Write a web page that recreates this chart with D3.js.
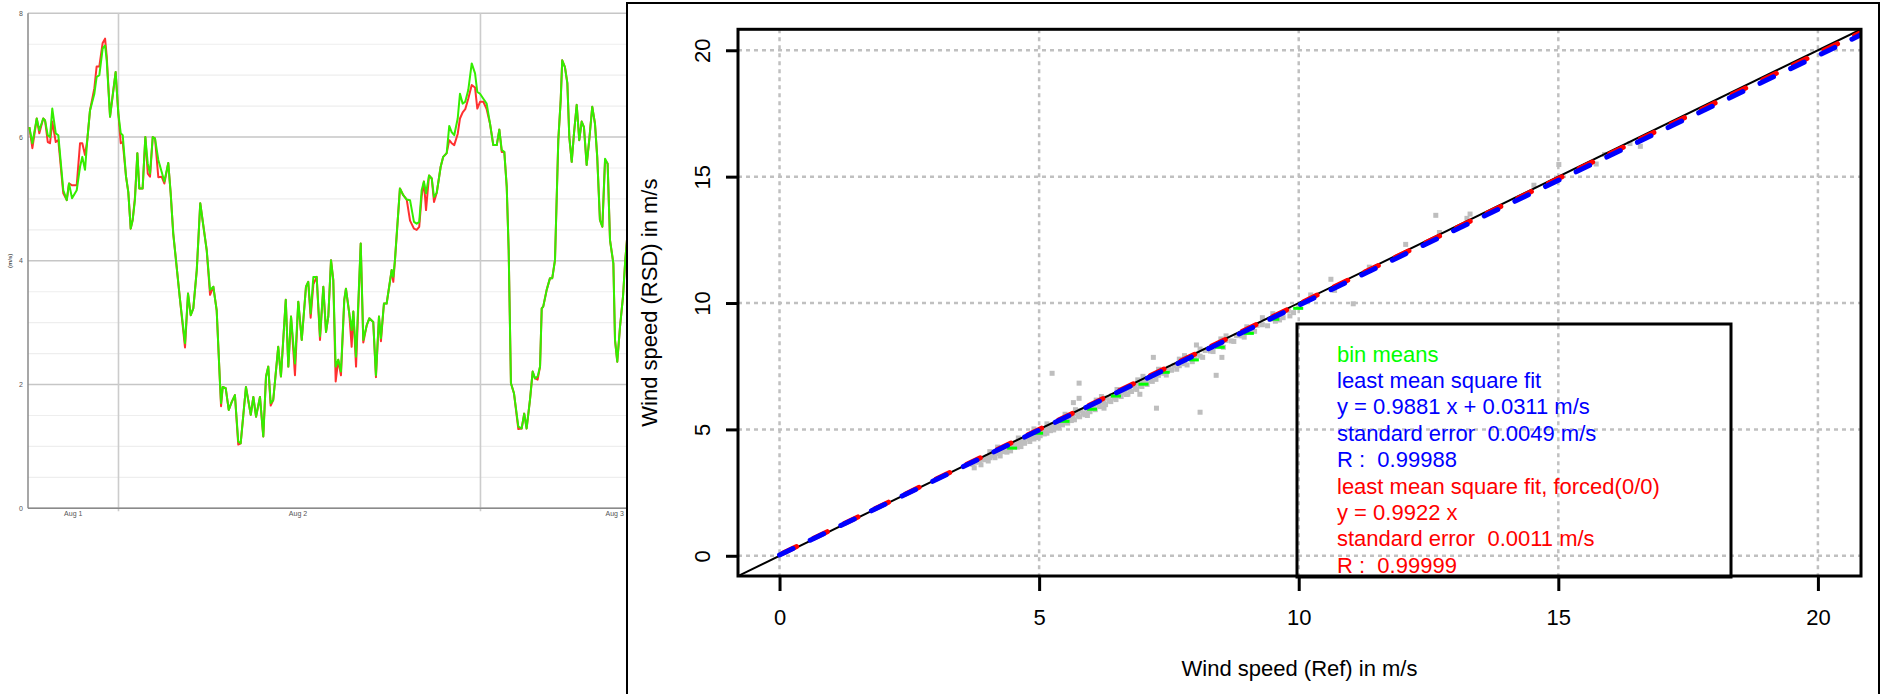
<!DOCTYPE html>
<html>
<head>
<meta charset="utf-8">
<script src="https://cdn.jsdelivr.net/npm/d3@7"></script>
<style>
  body { margin: 0; background: #fff; }
  svg { display: block; font-family: "Liberation Sans", Arial, sans-serif; }
</style>
</head>
<body>
<div class="chart"></div>
<script>
// ---- left panel: wind speed time series (hours since start, m/s) ----
var hours = [0.09,0.29,0.58,0.75,1.01,1.13,1.31,1.46,1.61,1.84,
  2.01,2.34,2.57,2.72,2.92,3.23,3.45,3.60,3.78,3.93,
  4.11,4.40,4.55,4.73,4.95,5.11,5.22,5.44,5.66,5.81,
  5.99,6.15,6.28,6.50,6.65,6.81,6.94,7.09,7.25,7.38,
  7.60,7.78,7.94,8.09,8.27,8.42,8.64,8.86,9.04,9.30,
  9.46,9.63,9.79,10.08,10.41,10.61,10.79,10.96,11.19,11.42,
  11.85,12.07,12.29,12.51,12.73,12.80,12.91,13.11,13.31,13.51,
  13.72,13.94,14.10,14.45,14.77,14.94,15.12,15.38,15.60,15.78,
  15.93,16.09,16.26,16.59,16.77,17.09,17.26,17.44,17.70,17.92,
  18.15,18.43,18.58,18.74,18.92,19.14,19.36,19.58,19.76,19.91,
  20.09,20.24,20.40,20.57,20.75,20.97,21.08,21.30,21.46,21.57,
  21.75,22.06,22.23,22.46,22.63,22.89,23.07,23.27,23.40,23.60,
  23.78,24.11,24.22,24.33,24.66,24.88,25.11,25.33,25.59,25.77,
  25.94,26.10,26.25,26.39,26.59,26.77,26.92,27.10,27.36,27.53,
  27.76,27.93,28.09,28.26,28.49,28.64,28.82,28.99,29.19,29.42,
  29.64,29.79,29.97,30.19,30.41,30.63,30.85,31.08,31.25,31.41,
  31.58,31.74,31.87,32.02,32.22,32.51,32.73,32.90,33.06,33.28,
  33.46,33.61,33.79,33.95,34.06,34.16,34.39,34.61,34.76,34.94,
  35.16,35.32,35.42,35.60,35.76,35.89,36.05,36.20,36.38,36.55,
  36.71,36.86,37.04,37.21,37.41,37.59,37.74,37.92,38.08,38.26,
  38.43,38.59,38.81,38.92,39.07,39.25,39.45,39.60,39.87];

// green line (RSD)
var rsdSpeed = [6.16,5.90,6.30,6.11,6.30,6.27,6.03,6.00,6.46,6.06,
  6.03,5.14,4.98,5.25,5.01,5.14,5.52,5.68,5.47,5.95,
  6.43,6.70,6.97,7.00,7.43,7.48,7.24,6.33,6.76,7.05,
  6.38,6.06,6.03,5.36,5.11,4.52,4.66,4.98,5.74,5.17,
  5.17,6.00,5.57,5.41,6.00,5.98,5.63,5.44,5.28,5.58,
  5.09,4.44,4.06,3.37,2.67,3.47,3.12,3.23,3.85,4.93,
  4.17,3.53,3.58,3.20,2.02,1.70,1.96,1.94,1.59,1.72,
  1.83,1.08,1.05,1.96,1.51,1.80,1.48,1.80,1.16,2.13,
  2.29,1.70,1.75,2.61,2.13,3.37,2.29,3.10,2.34,3.34,
  2.72,3.58,3.66,3.15,3.74,3.74,2.78,3.58,2.85,3.10,
  4.01,3.69,2.29,2.40,2.21,3.37,3.55,3.15,2.88,3.18,
  2.45,4.28,2.72,2.96,3.07,3.01,2.15,3.10,2.75,3.31,
  3.31,3.85,3.74,4.01,5.17,5.06,4.99,4.98,4.63,4.60,
  4.63,5.14,5.28,5.09,5.38,5.33,5.03,5.10,5.52,5.68,
  5.74,6.18,6.08,6.03,6.30,6.70,6.54,6.57,6.76,7.19,
  7.03,6.73,6.70,6.62,6.54,6.22,5.87,5.87,6.12,5.79,
  5.76,5.20,4.17,2.02,1.86,1.32,1.29,1.53,1.29,1.75,
  2.21,2.10,2.13,2.29,3.23,3.26,3.53,3.72,3.72,4.01,
  5.95,6.60,7.24,7.13,6.87,6.00,5.60,6.06,6.52,5.95,
  6.25,6.16,5.55,5.95,6.49,6.22,5.68,4.66,4.55,5.65,
  5.57,4.33,3.96,2.72,2.37,2.93,3.42,4.01,4.80];

// red line (reference mast)
var refSpeed = [6.16,5.82,6.30,6.06,6.30,6.27,5.92,5.90,6.25,5.92,
  5.95,5.09,4.98,5.25,5.22,5.22,5.90,5.90,5.71,5.95,
  6.43,6.79,7.14,7.14,7.52,7.59,7.30,6.33,6.76,7.05,
  6.38,5.90,5.92,5.36,5.11,4.52,4.66,5.02,5.74,5.17,
  5.17,6.00,5.41,5.36,6.00,5.98,5.35,5.36,5.25,5.58,
  5.09,4.44,4.06,3.37,2.60,3.47,3.12,3.23,3.85,4.93,
  4.17,3.45,3.58,3.20,2.02,1.65,1.96,1.94,1.59,1.72,
  1.83,1.03,1.05,1.96,1.51,1.80,1.48,1.80,1.16,2.13,
  2.29,1.66,1.75,2.61,2.13,3.37,2.29,3.10,2.15,3.34,
  2.72,3.58,3.66,3.08,3.62,3.74,2.72,3.58,2.85,3.10,
  4.01,3.69,2.05,2.40,2.15,3.37,3.55,3.15,2.61,3.18,
  2.29,4.28,2.68,2.96,3.07,3.01,2.12,3.10,2.70,3.31,
  3.31,3.85,3.66,4.01,5.17,5.06,4.99,4.65,4.52,4.50,
  4.55,5.04,5.28,4.82,5.38,5.33,4.95,5.10,5.52,5.68,
  5.74,5.95,5.90,5.87,6.05,6.30,6.40,6.45,6.62,6.84,
  6.80,6.46,6.57,6.57,6.45,6.22,5.87,5.87,6.12,5.76,
  5.76,5.20,4.17,2.02,1.86,1.28,1.29,1.53,1.29,1.75,
  2.21,2.10,2.08,2.29,3.23,3.26,3.53,3.72,3.72,4.01,
  5.95,6.60,7.24,7.13,6.87,6.00,5.60,6.06,6.52,5.95,
  6.25,6.16,5.55,5.95,6.49,6.22,5.68,4.66,4.55,5.63,
  5.57,4.33,3.96,2.72,2.37,2.93,3.42,4.01,4.80];

var tsMajorTicks = [0, 2, 4, 6, 8];
var tsMinorTicks = [0.5, 1, 1.5, 2.5, 3, 3.5, 4.5, 5, 5.5, 6.5, 7, 7.5];
var tsDayLines = [6, 30];
var tsDayTicks = [3, 17.9, 38.9];
var tsDayLabels = ["Aug 1", "Aug 2", "Aug 3"];

// ---- right panel: RSD vs reference scatter ----
var refScatter = [3.72,3.78,3.85,3.90,3.95,4.00,4.05,4.10,4.12,4.18,4.22,4.28,4.30,4.35,4.40,4.42,4.48,4.50,4.55,4.60,
  4.62,4.68,4.70,4.75,4.80,4.85,4.88,4.92,4.95,5.00,5.05,5.08,5.12,5.18,5.20,5.25,5.30,5.35,5.40,5.42,
  5.48,5.52,5.58,5.60,5.65,5.70,5.75,5.80,5.85,5.90,5.95,6.00,6.05,6.10,6.15,6.20,6.25,6.30,6.35,6.40,
  6.45,6.50,6.55,6.60,6.65,6.70,6.75,6.80,6.85,6.90,6.95,7.00,7.05,7.10,7.15,7.20,7.30,7.35,7.40,7.50,
  7.55,7.60,7.70,7.75,7.80,7.90,8.00,8.05,8.10,8.20,8.30,8.40,8.50,8.60,8.70,8.80,8.90,9.00,9.10,9.20,
  9.30,9.45,9.60,9.80,10.00,4.20,4.90,5.50,6.20,7.00,7.80,8.60,9.30,
  3.75,3.88,4.02,4.15,4.25,4.38,4.45,4.58,4.65,4.72,4.82,4.90,4.98,5.02,5.10,5.15,5.22,5.28,5.32,5.38,
  5.45,5.55,5.62,5.68,5.78,5.88,5.98,6.08,6.18,6.28,6.38,6.48,6.58,6.68,6.78,6.88,6.98,7.08,7.18,7.25,
  7.45,7.65,7.85,7.95,8.15,8.35,8.55,8.75,8.95,9.15,9.40,9.55,9.70,9.90,
  4.05,4.60,5.15,5.70,6.10,6.50,6.90,7.30,7.70,8.10,8.50,9.00,9.50,
  5.25,5.77,5.77,5.66,5.93,6.25,7.20,6.94,6.71,7.26,8.03,8.52,8.41,8.10,9.63,9.83,10.23,10.62,10.69,11.05,
  11.36,12.06,12.64,12.71,13.30,13.24,14.53,15.01,15.73,15.89,16.38,16.58];
var rsdScatter = [3.62,3.70,3.72,3.84,3.80,3.92,3.88,4.02,3.95,4.10,4.05,4.20,4.12,4.30,4.22,4.36,4.30,4.45,4.38,4.52,
  4.45,4.60,4.52,4.68,4.62,4.78,4.70,4.86,4.76,4.93,4.88,5.02,4.95,5.10,5.00,5.18,5.12,5.28,5.20,5.36,
  5.30,5.45,5.38,5.55,5.46,5.62,5.55,5.74,5.64,5.84,5.75,5.93,5.84,6.04,5.95,6.12,6.05,6.24,6.14,6.33,
  6.24,6.44,6.33,6.52,6.44,6.62,6.52,6.74,6.63,6.82,6.72,6.93,6.84,7.02,6.93,7.12,7.14,7.28,7.22,7.42,
  7.34,7.53,7.52,7.68,7.60,7.82,7.80,7.98,7.90,8.12,8.10,8.32,8.30,8.52,8.50,8.71,8.70,8.92,8.90,9.12,
  9.14,9.36,9.45,9.70,9.86,4.30,5.02,5.60,6.30,7.10,7.92,8.70,9.42,
  3.48,3.60,3.75,3.88,3.95,4.10,4.15,4.30,4.32,4.45,4.52,4.62,4.68,4.75,4.82,4.85,4.95,4.98,5.05,5.08,
  5.18,5.25,5.35,5.38,5.50,5.58,5.70,5.78,5.90,5.98,6.10,6.18,6.30,6.38,6.50,6.58,6.70,6.78,6.90,6.98,
  7.15,7.38,7.55,7.68,7.85,8.08,8.25,8.48,8.65,8.88,9.10,9.28,9.42,9.62,
  4.12,4.66,5.22,5.78,6.16,6.58,6.96,7.38,7.78,8.18,8.58,9.06,9.58,
  7.22,6.83,6.23,6.06,5.55,5.84,7.85,6.39,6.39,5.84,8.34,7.85,7.14,5.68,9.33,9.49,10.32,10.94,10.50,9.97,
  11.42,12.32,13.47,12.79,13.52,13.35,14.66,15.48,15.50,15.88,16.31,16.20];

var binRef = [4.48, 4.98, 5.49, 6.02, 6.48, 7.01, 7.42, 7.98, 8.48, 9.04, 9.53, 9.99];
var binRsd = [4.26, 4.85, 5.32, 5.80, 6.32, 6.79, 7.26, 7.75, 8.25, 8.80, 9.36, 9.79];

// fit results: [free fit, forced through origin]
var fitSlope = [0.9881, 0.9922];
var fitIntercept = [0.0311, 0];
var fitColors = ["#0000ff", "#ff0000"];

var scatterTicks = [0, 5, 10, 15, 20];
var legendLines = ["bin means", "least mean square fit", "y = 0.9881 x + 0.0311 m/s",
  "standard error  0.0049 m/s", "R :  0.99988", "least mean square fit, forced(0/0)",
  "y = 0.9922 x", "standard error  0.0011 m/s", "R :  0.99999"];
var legendColors = ["#00ff00", "#0000ff", "#0000ff", "#0000ff", "#0000ff",
  "#ff0000", "#ff0000", "#ff0000", "#ff0000"];

var svg = d3.select(".chart")
  .append("svg")
  .attr("width", 1882)
  .attr("height", 694);

// ================= left panel =================
var tsX = d3.scaleLinear().domain([0, 40]).range([28, 631.3]);
var tsY = d3.scaleLinear().domain([0, 8]).range([508.3, 13.3]);
var ts = svg.append("g");

ts.selectAll(".minor")
  .data(tsMinorTicks)
  .enter()
  .append("line")
  .attr("x1", tsX(0)).attr("x2", tsX(40))
  .attr("y1", function(d) { return tsY(d); })
  .attr("y2", function(d) { return tsY(d); })
  .attr("stroke", "#eeeeee")
  .attr("stroke-width", 1.2);

ts.selectAll(".major")
  .data(tsMajorTicks)
  .enter()
  .append("line")
  .attr("x1", tsX(0)).attr("x2", tsX(40))
  .attr("y1", function(d) { return tsY(d); })
  .attr("y2", function(d) { return tsY(d); })
  .attr("stroke", "#c6c6c6")
  .attr("stroke-width", 1.6);

ts.selectAll(".day")
  .data(tsDayLines)
  .enter()
  .append("line")
  .attr("x1", function(d) { return tsX(d); })
  .attr("x2", function(d) { return tsX(d); })
  .attr("y1", tsY(8)).attr("y2", tsY(0) + 3)
  .attr("stroke", "#cccccc")
  .attr("stroke-width", 1.6);

// axis lines
ts.append("line")
  .attr("x1", tsX(0)).attr("x2", tsX(0))
  .attr("y1", tsY(8)).attr("y2", tsY(0))
  .attr("stroke", "#8a8a8a").attr("stroke-width", 1.5);
ts.append("line")
  .attr("x1", tsX(0)).attr("x2", tsX(40))
  .attr("y1", tsY(0)).attr("y2", tsY(0))
  .attr("stroke", "#8a8a8a").attr("stroke-width", 1.5);

ts.selectAll(".ylab")
  .data(tsMajorTicks)
  .enter()
  .append("text")
  .attr("x", tsX(0) - 5)
  .attr("y", function(d) { return tsY(d); })
  .attr("dy", "0.35em")
  .attr("text-anchor", "end")
  .style("font-size", "7px")
  .style("fill", "#555")
  .text(function(d) { return d; });

ts.append("text")
  .attr("transform", "translate(12," + tsY(4.0) + ") rotate(-90)")
  .attr("text-anchor", "middle")
  .style("font-size", "6px")
  .style("font-weight", "bold")
  .style("fill", "#555")
  .text("(m/s)");

ts.selectAll(".xlab")
  .data(tsDayTicks)
  .enter()
  .append("text")
  .attr("x", function(d) { return tsX(d); })
  .attr("y", tsY(0) + 8)
  .attr("text-anchor", "middle")
  .style("font-size", "7px")
  .style("fill", "#555")
  .text(function(d, i) { return tsDayLabels[i]; });

// red under green
var idx = d3.range(hours.length);
function speedLine(values) {
  return d3.line()
    .x(function(i) { return tsX(hours[i]); })
    .y(function(i) { return tsY(values[i]); });
}
ts.append("path")
  .attr("d", speedLine(refSpeed)(idx))
  .attr("fill", "none")
  .attr("stroke", "#ff3030")
  .attr("stroke-width", 2)
  .attr("stroke-linejoin", "round");
ts.append("path")
  .attr("d", speedLine(rsdSpeed)(idx))
  .attr("fill", "none")
  .attr("stroke", "#33ee00")
  .attr("stroke-width", 2)
  .attr("stroke-linejoin", "round");

// ================= right panel =================
var panel = svg.append("g");
panel.append("rect")
  .attr("x", 627).attr("y", 3)
  .attr("width", 1252).attr("height", 720)
  .attr("fill", "#fff")
  .attr("stroke", "#000")
  .attr("stroke-width", 2);

var sx = d3.scaleLinear().domain([-0.8, 20.83]).range([738, 1861]);
var sy = d3.scaleLinear().domain([-0.8, 20.83]).range([576, 29.3]);

panel.append("clipPath")
  .attr("id", "plotclip")
  .append("rect")
  .attr("x", sx(-0.8)).attr("y", sy(20.83))
  .attr("width", sx(20.83) - sx(-0.8))
  .attr("height", sy(-0.8) - sy(20.83));

var plot = panel.append("g").attr("clip-path", "url(#plotclip)");

// dotted grid
plot.selectAll(".vgrid")
  .data(scatterTicks)
  .enter()
  .append("line")
  .attr("x1", function(d) { return sx(d); })
  .attr("x2", function(d) { return sx(d); })
  .attr("y1", sy(20.83)).attr("y2", sy(-0.8))
  .attr("stroke", "#c0c0c0")
  .attr("stroke-width", 2.5)
  .attr("stroke-dasharray", "4,4");
plot.selectAll(".hgrid")
  .data(scatterTicks)
  .enter()
  .append("line")
  .attr("x1", sx(-0.8)).attr("x2", sx(20.83))
  .attr("y1", function(d) { return sy(d); })
  .attr("y2", function(d) { return sy(d); })
  .attr("stroke", "#c0c0c0")
  .attr("stroke-width", 2.5)
  .attr("stroke-dasharray", "4,4");

// samples
plot.selectAll(".pt")
  .data(refScatter)
  .enter()
  .append("rect")
  .attr("x", function(d) { return sx(d) - 2.5; })
  .attr("y", function(d, i) { return sy(rsdScatter[i]) - 2.5; })
  .attr("width", 5).attr("height", 5)
  .attr("fill", "#bebebe");

// 1:1 line
plot.append("line")
  .attr("x1", sx(-0.8)).attr("y1", sy(-0.8))
  .attr("x2", sx(20.83)).attr("y2", sy(20.83))
  .attr("stroke", "#000")
  .attr("stroke-width", 2);

// bin means
plot.selectAll(".bin")
  .data(binRef)
  .enter()
  .append("rect")
  .attr("x", function(d) { return sx(d) - 5; })
  .attr("y", function(d, i) { return sy(binRsd[i]) - 1.5; })
  .attr("width", 10).attr("height", 3)
  .attr("fill", "#00ff00");

// fit lines, forced fit first so the free fit sits on top
[1, 0].forEach(function(k) {
  plot.append("line")
    .attr("x1", sx(0)).attr("y1", sy(fitIntercept[k]))
    .attr("x2", sx(20.83)).attr("y2", sy(fitSlope[k] * 20.83 + fitIntercept[k]))
    .attr("stroke", fitColors[k])
    .attr("stroke-width", 5)
    .attr("stroke-linecap", "round")
    .attr("stroke-dasharray", "15,19")
    .attr("stroke-dashoffset", k === 1 ? -4 : 0)
    .attr("transform", k === 1 ? "translate(0,-1)" : null);
});

// axes
var xAxis = panel.append("g")
  .attr("transform", "translate(0," + sy(-0.8) + ")")
  .call(d3.axisBottom(sx).tickValues(scatterTicks).tickSize(15).tickPadding(18));
var yAxis = panel.append("g")
  .attr("transform", "translate(" + sx(-0.8) + ",0)")
  .call(d3.axisLeft(sy).tickValues(scatterTicks).tickSize(12));

[xAxis, yAxis].forEach(function(ax) {
  ax.select(".domain").remove();
  ax.selectAll(".tick line").attr("stroke", "#000").attr("stroke-width", 3);
  ax.selectAll(".tick text")
    .style("font-size", "22px")
    .style("font-family", "'Liberation Sans', Arial, sans-serif")
    .attr("fill", "#000");
});
yAxis.selectAll(".tick text")
  .attr("x", null).attr("dy", null)
  .attr("text-anchor", "middle")
  .attr("transform", "translate(-28,0) rotate(-90)");

// plot box
panel.append("rect")
  .attr("x", sx(-0.8)).attr("y", sy(20.83))
  .attr("width", sx(20.83) - sx(-0.8))
  .attr("height", sy(-0.8) - sy(20.83))
  .attr("fill", "none")
  .attr("stroke", "#000")
  .attr("stroke-width", 3);

// axis titles
panel.append("text")
  .attr("x", (sx(-0.8) + sx(20.83)) / 2)
  .attr("y", 676)
  .attr("text-anchor", "middle")
  .style("font-size", "22px")
  .text("Wind speed (Ref) in m/s");
panel.append("text")
  .attr("transform", "translate(657," + (sy(-0.8) + sy(20.83)) / 2 + ") rotate(-90)")
  .attr("text-anchor", "middle")
  .style("font-size", "22px")
  .text("Wind speed (RSD) in m/s");

// legend
panel.append("rect")
  .attr("x", 1297).attr("y", 324)
  .attr("width", 434).attr("height", 253)
  .attr("fill", "none")
  .attr("stroke", "#000")
  .attr("stroke-width", 3);

panel.selectAll(".leg")
  .data(legendLines)
  .enter()
  .append("text")
  .attr("x", 1337)
  .attr("y", function(d, i) { return 361.5 + i * 26.4; })
  .style("font-size", "22px")
  .style("white-space", "pre")
  .attr("fill", function(d, i) { return legendColors[i]; })
  .text(function(d) { return d; });
</script>
</body>
</html>
